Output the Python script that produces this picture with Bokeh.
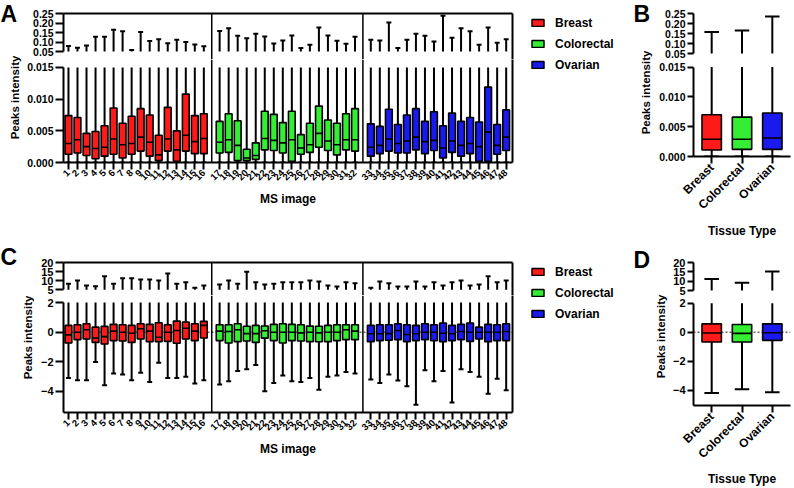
import math
import numpy as np
from bokeh.plotting import figure
from bokeh.models import (Range1d, FactorRange, LinearAxis, CategoricalAxis, FixedTicker, BoxAnnotation,
                          NumeralTickFormatter, Span, Label, Legend, LegendItem, ColumnDataSource)
from bokeh.layouts import row, column
from bokeh.embed import file_html
from bokeh.resources import INLINE

FONT = "Liberation Sans"

# ---------------- data ----------------
tissues = ["Breast", "Colorectal", "Ovarian"]
tissue_colors = ["#ff1a1a", "#33ee33", "#1a1aee"]

ms_labels = ["1", "2", "3", "4", "5", "6", "7", "8", "9", "10", "11", "12", "13", "14", "15", "16",
             "17", "18", "19", "20", "21", "22", "23", "24", "25", "26", "27", "28", "29", "30", "31", "32",
             "33", "34", "35", "36", "37", "38", "39", "40", "41", "42", "43", "44", "45", "46", "47", "48"]
ms_tissue = ["Breast"] * 16 + ["Colorectal"] * 16 + ["Ovarian"] * 16

# Panel A: raw peak intensities per MS image
a_max = [0.079, 0.070, 0.081, 0.127, 0.127, 0.164, 0.156, 0.058, 0.152, 0.105, 0.114, 0.094, 0.112, 0.100, 0.087, 0.078,
         0.158, 0.172, 0.133, 0.120, 0.143, 0.129, 0.092, 0.108, 0.134, 0.068, 0.085, 0.176, 0.134, 0.106, 0.091, 0.128,
         0.112, 0.108, 0.202, 0.068, 0.112, 0.143, 0.133, 0.103, 0.238, 0.122, 0.173, 0.157, 0.086, 0.176, 0.096, 0.114]
a_q3 = [0.0074, 0.0071, 0.0046, 0.0049, 0.0058, 0.0086, 0.0062, 0.0073, 0.0085, 0.0075, 0.0043, 0.0087, 0.0050, 0.0108, 0.0074, 0.0077,
        0.0065, 0.0077, 0.0066, 0.0021, 0.0031, 0.0081, 0.0076, 0.0063, 0.0081, 0.0044, 0.0062, 0.0089, 0.0067, 0.0062, 0.0077, 0.0085,
        0.0061, 0.0057, 0.0084, 0.0060, 0.0075, 0.0085, 0.0065, 0.0080, 0.0058, 0.0078, 0.0065, 0.0071, 0.0064, 0.0119, 0.0060, 0.0083]
a_med = [0.0030, 0.0036, 0.0025, 0.0022, 0.0024, 0.0037, 0.0028, 0.0030, 0.0040, 0.0032, 0.0012, 0.0037, 0.0020, 0.0043, 0.0033, 0.0038,
         0.0032, 0.0036, 0.0027, 0.0007, 0.0011, 0.0038, 0.0035, 0.0031, 0.0036, 0.0023, 0.0028, 0.0046, 0.0034, 0.0028, 0.0036, 0.0036,
         0.0024, 0.0027, 0.0037, 0.0030, 0.0034, 0.0040, 0.0033, 0.0035, 0.0023, 0.0034, 0.0027, 0.0030, 0.0025, 0.0048, 0.0027, 0.0040]
a_q1 = [0.0013, 0.0015, 0.0011, 0.0006, 0.0010, 0.0013, 0.0007, 0.0013, 0.0018, 0.0010, 0.0003, 0.0018, 0.0002, 0.0018, 0.0014, 0.0014,
        0.0015, 0.0016, 0.0003, 0.0003, 0.0005, 0.0020, 0.0019, 0.0015, 0.0002, 0.0013, 0.0016, 0.0024, 0.0019, 0.0012, 0.0020, 0.0018,
        0.0010, 0.0014, 0.0018, 0.0015, 0.0015, 0.0020, 0.0014, 0.0019, 0.0007, 0.0016, 0.0010, 0.0014, 0.0002, 0.0002, 0.0013, 0.0019]
a_min = [0.0, 0.0, 0.0, 0.0, 0.0, 0.0, 0.0, 0.0, 0.0, 0.0, 0.0, 0.0, 0.0, 0.0, 0.0, 0.0,
         0.0, 0.0, 0.0, 0.0, 0.0, 0.0, 0.0, 0.0, 0.0, 0.0, 0.0, 0.0, 0.0, 0.0, 0.0, 0.0,
         0.0, 0.0, 0.0, 0.0, 0.0, 0.0, 0.0, 0.0, 0.0, 0.0, 0.0, 0.0, 0.0, 0.0, 0.0, 0.0]

# Panel B: raw peak intensities per tissue type
b_max = [0.158, 0.165, 0.235]
b_q3 = [0.0070, 0.0066, 0.0073]
b_med = [0.0029, 0.0029, 0.0031]
b_q1 = [0.0011, 0.0012, 0.0012]
b_min = [0.0, 0.0, 0.0]

# Panel C: normalised peak intensities per MS image
c_max = [8.3, 10.1, 7.4, 7.0, 12.4, 8.3, 11.3, 11.3, 10.6, 10.6, 10.1, 14.0, 8.3, 9.2, 6.1, 7.4,
         7.9, 10.1, 8.3, 14.9, 9.2, 7.9, 8.3, 9.2, 9.2, 9.2, 10.1, 9.5, 7.4, 6.8, 9.2, 8.6,
         6.1, 9.5, 8.6, 6.8, 6.8, 9.5, 6.8, 9.2, 7.4, 9.2, 10.1, 7.4, 7.9, 12.4, 9.2, 10.1]
c_q3 = [0.46, 0.50, 0.57, 0.34, 0.39, 0.53, 0.50, 0.46, 0.57, 0.53, 0.64, 0.50, 0.75, 0.69, 0.57, 0.73,
        0.50, 0.50, 0.57, 0.40, 0.46, 0.42, 0.53, 0.57, 0.53, 0.50, 0.41, 0.40, 0.46, 0.50, 0.50, 0.50,
        0.46, 0.50, 0.50, 0.57, 0.50, 0.46, 0.57, 0.50, 0.62, 0.46, 0.53, 0.62, 0.34, 0.53, 0.50, 0.57]
c_med = [-0.18, 0.00, 0.16, -0.39, -0.30, 0.07, 0.00, -0.07, 0.23, 0.07, -0.34, 0.00, 0.11, 0.27, 0.07, 0.46,
         0.07, 0.05, 0.16, -0.10, -0.10, 0.10, 0.00, 0.00, 0.00, -0.05, 0.00, -0.05, 0.00, 0.00, 0.16, 0.07,
         -0.11, -0.11, -0.10, 0.11, -0.16, -0.11, 0.00, 0.00, -0.07, -0.11, 0.05, 0.00, 0.00, 0.00, 0.00, 0.05]
c_q1 = [-0.73, -0.50, -0.46, -0.69, -0.80, -0.57, -0.60, -0.69, -0.46, -0.64, -0.64, -0.62, -0.75, -0.46, -0.57, -0.39,
        -0.57, -0.73, -0.64, -0.60, -0.69, -0.40, -0.57, -0.73, -0.57, -0.60, -0.64, -0.65, -0.64, -0.57, -0.50, -0.50,
        -0.64, -0.57, -0.55, -0.50, -0.64, -0.57, -0.50, -0.57, -0.64, -0.57, -0.50, -0.62, -0.46, -0.64, -0.57, -0.57]
c_min = [-3.09, -3.25, -3.25, -2.01, -3.59, -2.79, -2.86, -3.25, -2.74, -3.36, -2.06, -3.09, -3.09, -3.02, -3.47, -3.25,
         -3.54, -3.31, -2.63, -2.51, -2.22, -4.00, -3.43, -2.93, -3.31, -3.36, -3.09, -3.89, -3.02, -2.93, -2.70, -2.79,
         -3.20, -3.43, -2.86, -3.27, -3.66, -4.91, -2.58, -3.31, -2.63, -4.75, -2.51, -2.70, -3.02, -4.16, -3.15, -3.93]

# Panel D: normalised peak intensities per tissue type
d_max = [11.2, 9.1, 15.2]
d_q3 = [0.58, 0.54, 0.58]
d_med = [-0.05, -0.08, -0.03]
d_q1 = [-0.67, -0.67, -0.56]
d_min = [-4.20, -3.94, -4.15]

# ---------------- geometry / styling ----------------
GROUP_STEP = 16.75
ms_x = [i % 16 + (i // 16) * GROUP_STEP for i in range(len(ms_labels))]
MS_XR = (-0.55, 49.2)
SEPARATORS = [15.875, 32.625]
color_of = dict(zip(tissues, tissue_colors))


def base_fig(w, h, xr, yr, bl, br, bt, bb):
    p = figure(width=w, height=h, x_range=xr, y_range=yr, output_backend="svg",
               toolbar_location=None, x_axis_location=None, y_axis_location=None,
               min_border_left=bl, min_border_right=br, min_border_top=bt, min_border_bottom=bb)
    p.grid.visible = False
    p.outline_line_color = None
    p.background_fill_color = "white"
    p.border_fill_color = "white"
    return p


def style_axis(ax, size="11px", tick_out=8, standoff=2):
    ax.axis_line_width = 2
    ax.axis_line_color = "black"
    ax.major_tick_line_width = 2
    ax.major_tick_line_color = "black"
    ax.major_tick_out = tick_out
    ax.major_tick_in = 0
    ax.minor_tick_out = 0
    ax.minor_tick_in = 0
    ax.major_label_text_font = FONT
    ax.major_label_text_font_style = "bold"
    ax.major_label_text_font_size = size
    ax.major_label_text_color = "black"
    ax.major_label_standoff = standoff
    ax.axis_label_text_font = FONT
    ax.axis_label_text_font_style = "bold"
    ax.axis_label_text_font_size = "12px"
    ax.axis_label_text_color = "black"


def frame_line(p, side):
    ax = LinearAxis(ticker=FixedTicker(ticks=[]), axis_line_width=2, axis_line_color="black",
                    major_tick_out=0, major_tick_in=0, minor_tick_out=0, minor_tick_in=0,
                    major_label_standoff=0, major_label_text_font_size="0px")
    p.add_layout(ax, side)


def left_axis(p, ticks, fmt, bounds, size, tick_out):
    ax = LinearAxis(ticker=FixedTicker(ticks=ticks), bounds=bounds)
    if fmt:
        ax.formatter = NumeralTickFormatter(format=fmt)
    style_axis(ax, size=size, tick_out=tick_out, standoff=2)
    p.add_layout(ax, "left")


def text_fig(w, h, letter, letter_xy, ylab_xy):
    p = figure(width=w, height=h, x_range=Range1d(0, w), y_range=Range1d(h, 0),
               output_backend="svg", toolbar_location=None,
               x_axis_location=None, y_axis_location=None,
               min_border_left=0, min_border_right=0, min_border_top=0, min_border_bottom=0)
    p.grid.visible = False
    p.outline_line_color = None
    p.add_layout(Label(x=letter_xy[0], y=letter_xy[1], text=letter, text_align="left",
                       text_baseline="top", text_font=FONT, text_font_style="bold",
                       text_font_size="23px", text_color="black"))
    p.add_layout(Label(x=ylab_xy[0], y=ylab_xy[1], text="Peaks intensity", angle=math.pi / 2,
                       text_align="center", text_baseline="middle", text_font=FONT,
                       text_font_style="bold", text_font_size="11.5px", text_color="black"))
    return p


def make_source(xs, vmin, q1, med, q3, vmax, tiss, ceil):
    return ColumnDataSource(dict(
        x=xs, vmin=vmin, q1=q1, med=med, q3=q3, vmax=vmax,
        wtop=list(np.minimum(np.array(vmax), ceil)),
        color=[color_of[t] for t in tiss]))


def upper_marks(p, src, cap_w, floor):
    p.segment(x0="x", y0=floor, x1="x", y1="vmax", source=src, line_color="black", line_width=2)
    p.vbar(x="x", top="vmax", bottom="vmax", width=cap_w, source=src,
           fill_color=None, line_color="black", line_width=2)


def lower_marks(p, src, box_w, cap_w):
    p.segment(x0="x", y0="vmin", x1="x", y1="wtop", source=src, line_color="black", line_width=2)
    p.vbar(x="x", top="vmin", bottom="vmin", width=cap_w, source=src,
           fill_color=None, line_color="black", line_width=2)
    p.vbar(x="x", top="q3", bottom="q1", width=box_w, source=src,
           fill_color="color", line_color="black", line_width=1.6)
    p.vbar(x="x", top="med", bottom="med", width=box_w, source=src,
           fill_color=None, line_color="black", line_width=1.6)


def zero_line(p):
    zl = Span(location=0, dimension="width", line_color="#666666", line_width=1.5, line_dash="2 2")
    zl.level = "underlay"
    p.add_layout(zl)


def ms_panel(width, bl, vmin, q1, med, q3, vmax, up_h, up_bt, up_yr, up_ticks, up_fmt, up_floor,
             lo_h, lo_bb, lo_yr, lo_ticks, lo_fmt, lo_ceil, tick_size, zero=False):
    xr = Range1d(*MS_XR)
    src = make_source(ms_x, vmin, q1, med, q3, vmax, ms_tissue, lo_ceil)
    up = base_fig(width, up_h, xr, Range1d(*up_yr), bl, 6, up_bt, 0)
    lo = base_fig(width, lo_h, xr, Range1d(*lo_yr), bl, 6, 0, lo_bb)
    for p in (up, lo):
        for s in SEPARATORS:
            p.add_layout(Span(location=s, dimension="height", line_color="black", line_width=1.5))
        frame_line(p, "right")
    frame_line(up, "above")
    left_axis(up, up_ticks, up_fmt, (up_floor, up_yr[1]), tick_size, 8)
    left_axis(lo, lo_ticks, lo_fmt, (lo_yr[0], lo_ceil), tick_size, 8)
    if zero:
        zero_line(lo)
    upper_marks(up, src, 0.55, up_floor)
    lower_marks(lo, src, 0.75, 0.55)
    xax = LinearAxis(ticker=FixedTicker(ticks=ms_x),
                     major_label_overrides={x: lab for x, lab in zip(ms_x, ms_labels)},
                     axis_label="MS image")
    style_axis(xax, size="9.5px", tick_out=7, standoff=2)
    xax.major_label_orientation = math.pi / 4
    xax.axis_label_standoff = 6
    lo.add_layout(xax, "below")
    return column(up, lo)


def tissue_panel(width, bl, vmin, q1, med, q3, vmax, up_h, up_bt, up_yr, up_ticks, up_fmt, up_floor,
                 lo_h, lo_bb, lo_yr, lo_ticks, lo_fmt, lo_ceil, tick_size, xlab_size,
                 title_standoff, zero=False):
    xr = FactorRange(factors=tissues, range_padding=0.1, range_padding_units="absolute")
    src = make_source(tissues, vmin, q1, med, q3, vmax, tissues, lo_ceil)
    up = base_fig(width, up_h, xr, Range1d(*up_yr), bl, 4, up_bt, 0)
    lo = base_fig(width, lo_h, xr, Range1d(*lo_yr), bl, 4, 0, lo_bb)
    left_axis(up, up_ticks, up_fmt, (up_floor, up_yr[1]), tick_size, 6)
    left_axis(lo, lo_ticks, lo_fmt, (lo_yr[0], lo_ceil), tick_size, 6)
    if zero:
        zero_line(lo)
    upper_marks(up, src, 0.48, up_floor)
    lower_marks(lo, src, 0.64, 0.48)
    xax = CategoricalAxis(axis_label="Tissue Type")
    style_axis(xax, size=xlab_size, tick_out=7, standoff=2)
    xax.major_label_orientation = math.pi / 4
    xax.axis_label_standoff = title_standoff
    lo.add_layout(xax, "below")
    return column(up, lo)


ITEM_H = 20
ITEM_GAP = 1


def legend_fig(h, first_center):
    # legend proxies built from panel B's boxes, hidden under a white cover
    p = figure(width=108, height=h, x_range=FactorRange(factors=tissues), y_range=Range1d(0, 0.01),
               output_backend="svg", toolbar_location=None,
               x_axis_location=None, y_axis_location=None,
               min_border_left=0, min_border_right=0, min_border_top=0, min_border_bottom=0)
    p.grid.visible = False
    p.outline_line_color = None
    items = []
    for name, col, lo_v, hi_v in zip(tissues, tissue_colors, b_q1, b_q3):
        r = p.vbar(x=[name], top=[hi_v], bottom=[lo_v], width=0.5,
                   fill_color=col, line_color="black", line_width=1.5)
        items.append(LegendItem(label=name, renderers=[r]))
    p.add_layout(BoxAnnotation(fill_color="white", fill_alpha=1.0, line_alpha=0.0))
    n = len(items)
    leg_h = n * ITEM_H + (n - 1) * ITEM_GAP
    top = first_center - ITEM_H / 2
    lg = Legend(items=items, location=(12, h - top - leg_h), margin=0, padding=0, spacing=ITEM_GAP,
                glyph_width=15, glyph_height=9, label_standoff=10, label_height=ITEM_H,
                label_text_font=FONT, label_text_font_style="bold", label_text_font_size="12px",
                label_text_color="black", border_line_color=None, background_fill_alpha=0)
    p.add_layout(lg)
    return p


# ---- row 1: A and B ----
text_a = text_fig(24, 240, "A", (0, 0), (14, 97))
panel_a = ms_panel(494, 39, a_min, a_q1, a_med, a_q3, a_max,
                   59, 13, (0.0079, 0.25), [0.05, 0.10, 0.15, 0.20, 0.25], "0.00", 0.05,
                   181, 78, (0.0, 0.01626), [0.0, 0.005, 0.010, 0.015], "0.000", 0.015, "10.5px")
text_b = text_fig(30, 240, "B", (7, 0), (19, 92))
panel_b = tissue_panel(138, 37, b_min, b_q1, b_med, b_q3, b_max,
                       60, 13, (0.015, 0.25), [0.05, 0.10, 0.15, 0.20, 0.25], "0.00", 0.05,
                       180, 78, (0.0, 0.016105), [0.0, 0.005, 0.010, 0.015], "0.000", 0.015,
                       "10.5px", "12px", 4)

# ---- row 2: C and D ----
text_c = text_fig(34, 248, "C", (0, 3), (27, 97))
panel_c = ms_panel(484, 29, c_min, c_q1, c_med, c_q3, c_max,
                   55, 22, (1.868, 20.0), [5, 10, 15, 20], None, 5.0,
                   193, 76, (-5.43, 2.48), [-4, -2, 0, 2], None, 2.0, "11px", zero=True)
text_d = text_fig(42, 248, "D", (7, 6), (34, 96))
panel_d = tissue_panel(126, 25, d_min, d_q1, d_med, d_q3, d_max,
                       56, 22, (1.79, 20.0), [5, 10, 15, 20], None, 5.0,
                       192, 76, (-5.06, 2.47), [-4, -2, 0, 2], None, 2.0,
                       "11px", "12px", 3, zero=True)

layout = column(row(text_a, panel_a, legend_fig(240, 22.5), text_b, panel_b),
                row(text_c, panel_c, legend_fig(248, 31.7), text_d, panel_d))

open("out.html", "w").write(file_html(layout, INLINE))
